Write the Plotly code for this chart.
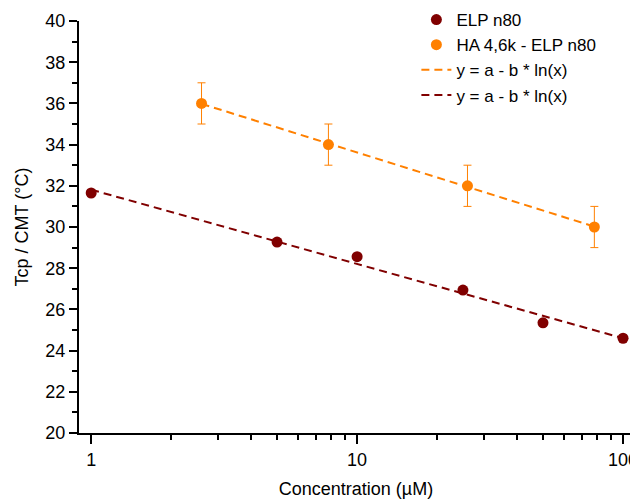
import numpy as np
import plotly.graph_objects as go

elp_x = [1, 5, 10, 25, 50, 100]
elp_y = [31.65, 29.27, 28.56, 26.94, 25.35, 24.6]
ha_x = [2.6, 7.8, 26, 78]
ha_y = [36, 34, 32, 30]
ha_err = [1, 1, 1, 1]

c_elp = "#800000"
c_ha = "#FF8000"

def fit(xs, ys):
    b, a = np.polyfit(np.log(xs), ys, 1)
    xf = np.array([min(xs), max(xs)])
    return xf, a + b * np.log(xf)

fx_elp, fy_elp = fit(elp_x, elp_y)
fx_ha, fy_ha = fit(ha_x, ha_y)

font = "Liberation Sans, Arial, sans-serif"
fig = go.Figure()
fig.add_trace(go.Scatter(x=fx_ha, y=fy_ha, mode="lines", name="y = a - b * ln(x)",
                         legendrank=3,
                         line=dict(color=c_ha, width=2, dash="8px,5px")))
fig.add_trace(go.Scatter(x=fx_elp, y=fy_elp, mode="lines", name="y = a - b * ln(x)",
                         legendrank=4,
                         line=dict(color=c_elp, width=2, dash="8px,5px")))
fig.add_trace(go.Scatter(x=elp_x, y=elp_y, mode="markers", name="ELP n80",
                         legendrank=1,
                         marker=dict(color=c_elp, size=11)))
fig.add_trace(go.Scatter(x=ha_x, y=ha_y, mode="markers", name="HA 4,6k - ELP n80",
                         legendrank=2,
                         marker=dict(color=c_ha, size=11),
                         error_y=dict(type="data", array=ha_err, color=c_ha,
                                      thickness=1, width=4)))

# page has an 8px body margin, so the figure is sized/positioned to compensate
fig.update_layout(
    width=630, height=492,
    margin=dict(l=71, r=5, t=13, b=67, autoexpand=False),
    plot_bgcolor="white", paper_bgcolor="white",
    font=dict(family=font, size=18, color="black"),
    showlegend=True,
    legend=dict(x=0.609, y=1.046, xanchor="left", yanchor="top",
                bgcolor="rgba(0,0,0,0)", font=dict(family=font, size=17),
                traceorder="normal", itemwidth=30, tracegroupgap=0),
    xaxis=dict(type="log", range=[np.log10(0.9), np.log10(109)], automargin=False,
               title=dict(text="Concentration (µM)", font=dict(family=font, size=18), standoff=14),
               tickfont=dict(family=font, size=18), ticklabeloverflow="allow",
               showline=True, linecolor="black", linewidth=2,
               ticks="outside", ticklen=9, tickwidth=2, tickcolor="black",
               tickvals=[1, 10, 100], ticktext=["1", "10", "100"],
               minor=dict(ticks="outside", ticklen=5, tickwidth=1.5, tickcolor="black",
                          tickvals=[2, 3, 4, 5, 6, 7, 8, 9, 20, 30, 40, 50, 60, 70, 80, 90]),
               showgrid=False, zeroline=False, mirror=False),
    yaxis=dict(range=[20, 40], automargin=False,
               title=dict(text="Tcp / CMT (°C)", font=dict(family=font, size=18), standoff=12),
               tickfont=dict(family=font, size=18),
               showline=True, linecolor="black", linewidth=2,
               ticks="outside", ticklen=8, tickwidth=2, tickcolor="black",
               tickvals=list(range(20, 41, 2)),
               minor=dict(ticks="outside", ticklen=5, tickwidth=1.5, tickcolor="black",
                          dtick=1),
               showgrid=False, zeroline=False, mirror=False),
)
fig.write_html("out.html")
